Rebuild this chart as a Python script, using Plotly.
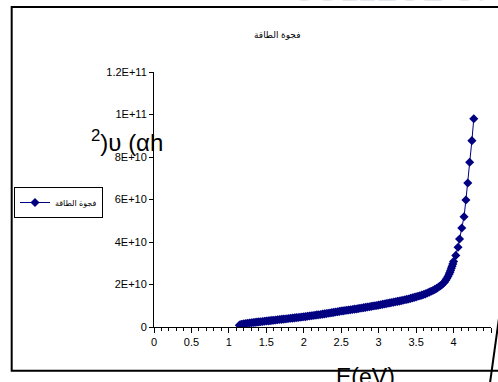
import plotly.graph_objects as go

# ---- data ----
energy_ev = [1.140, 1.150, 1.165, 1.175, 1.200, 1.225, 1.250, 1.275, 1.300, 1.325,
             1.350, 1.375, 1.400, 1.425, 1.450, 1.475, 1.500, 1.525, 1.550, 1.575,
             1.600, 1.625, 1.650, 1.675, 1.700, 1.725, 1.750, 1.775, 1.800, 1.825,
             1.850, 1.875, 1.900, 1.925, 1.950, 1.975, 2.000, 2.025, 2.050, 2.075,
             2.100, 2.125, 2.150, 2.175, 2.200, 2.225, 2.250, 2.275, 2.300, 2.325,
             2.350, 2.375, 2.400, 2.425, 2.450, 2.475, 2.500, 2.525, 2.550, 2.575,
             2.600, 2.625, 2.650, 2.675, 2.700, 2.725, 2.750, 2.775, 2.800, 2.825,
             2.850, 2.875, 2.900, 2.925, 2.950, 2.975, 3.000, 3.025, 3.050, 3.075,
             3.100, 3.125, 3.150, 3.175, 3.200, 3.225, 3.250, 3.275, 3.300, 3.325,
             3.350, 3.375, 3.400, 3.425, 3.450, 3.475, 3.500, 3.525, 3.550, 3.575,
             3.600, 3.625, 3.650, 3.675, 3.700, 3.725, 3.750, 3.775, 3.800, 3.820,
             3.840, 3.860, 3.880, 3.895, 3.910, 3.925, 3.940, 3.950, 3.960, 3.970,
             3.980, 3.990, 4.000, 4.030, 4.060, 4.080, 4.110, 4.140, 4.165, 4.190,
             4.215, 4.245, 4.270]
alpha_hv_sq = [0.08e10, 0.10e10, 0.12e10, 0.13e10, 0.15e10, 0.165e10, 0.18e10, 0.19e10, 0.20e10, 0.21e10,
               0.22e10, 0.23e10, 0.24e10, 0.25e10, 0.26e10, 0.27e10, 0.28e10, 0.29e10, 0.30e10, 0.31e10,
               0.32e10, 0.33e10, 0.34e10, 0.35e10, 0.36e10, 0.37e10, 0.38e10, 0.39e10, 0.40e10, 0.41e10,
               0.42e10, 0.43e10, 0.44e10, 0.45e10, 0.46e10, 0.47e10, 0.48e10, 0.49e10, 0.505e10, 0.52e10,
               0.53e10, 0.54e10, 0.555e10, 0.57e10, 0.58e10, 0.59e10, 0.605e10, 0.62e10, 0.63e10, 0.645e10,
               0.66e10, 0.675e10, 0.69e10, 0.705e10, 0.72e10, 0.735e10, 0.75e10, 0.76e10, 0.775e10, 0.79e10,
               0.80e10, 0.81e10, 0.825e10, 0.84e10, 0.85e10, 0.865e10, 0.88e10, 0.895e10, 0.91e10, 0.925e10,
               0.94e10, 0.955e10, 0.97e10, 0.985e10, 1.00e10, 1.015e10, 1.03e10, 1.05e10, 1.065e10, 1.08e10,
               1.10e10, 1.12e10, 1.135e10, 1.15e10, 1.17e10, 1.19e10, 1.205e10, 1.22e10, 1.24e10, 1.26e10,
               1.28e10, 1.30e10, 1.32e10, 1.345e10, 1.37e10, 1.395e10, 1.42e10, 1.445e10, 1.47e10, 1.50e10,
               1.53e10, 1.56e10, 1.60e10, 1.64e10, 1.68e10, 1.72e10, 1.77e10, 1.82e10, 1.88e10, 1.93e10,
               1.98e10, 2.05e10, 2.12e10, 2.20e10, 2.28e10, 2.38e10, 2.48e10, 2.57e10, 2.66e10, 2.76e10,
               2.86e10, 2.97e10, 3.08e10, 3.37e10, 3.75e10, 4.14e10, 4.66e10, 5.19e10, 5.98e10, 6.78e10,
               7.75e10, 8.77e10, 9.80e10]

series_name = "فجوة الطاقة"
chart_title = "فجوة الطاقة"
y_tick_vals = [0, 2e10, 4e10, 6e10, 8e10, 1e11, 1.2e11]
y_tick_text = ["0", "2E+10", "4E+10", "6E+10", "8E+10", "1E+11", "1.2E+11"]
x_tick_vals = [0, 0.5, 1, 1.5, 2, 2.5, 3, 3.5, 4, 4.5]
x_tick_text = ["0", "0.5", "1", "1.5", "2", "2.5", "3", "3.5", "4", "4.5"]

NAVY = "#000080"
FONT = "Liberation Sans, Arial, DejaVu Sans, sans-serif"

fig = go.Figure()
fig.add_trace(go.Scatter(
    x=energy_ev, y=alpha_hv_sq, name=series_name, mode="lines+markers",
    line=dict(color=NAVY, width=1),
    marker=dict(symbol="diamond", size=7, color=NAVY),
))

fig.update_layout(
    width=498, height=382,
    margin=dict(l=154, r=7, t=72, b=55),
    paper_bgcolor="white", plot_bgcolor="white",
    font=dict(family=FONT, size=11, color="black"),
    showlegend=True,
    legend=dict(x=-0.4154, y=0.549, xanchor="left", yanchor="top",
                bordercolor="black", borderwidth=1, bgcolor="white",
                font=dict(size=8, family=FONT), itemwidth=30,
                tracegroupgap=0),
    xaxis=dict(range=[0, 4.5], tickvals=x_tick_vals, ticktext=x_tick_text,
               showgrid=False, zeroline=False, showline=True, linecolor="black",
               linewidth=1, ticks="outside", ticklen=5, tickcolor="black",
               minor=dict(dtick=0.1, ticks="outside", ticklen=3, tickcolor="black"),
               tickfont=dict(size=11)),
    yaxis=dict(range=[0, 1.2e11], tickvals=y_tick_vals, ticktext=y_tick_text,
               showgrid=False, zeroline=False, showline=True, linecolor="black",
               linewidth=1, ticks="outside", ticklen=4, tickcolor="black",
               tickfont=dict(size=11)),
)

# outer chart-area frame
fig.add_shape(type="rect", xref="paper", yref="paper",
              x0=-0.4223, x1=1.2, y0=-0.1714, y1=1.2549,
              line=dict(color="black", width=2), layer="below")
# scanned stray line at bottom right
fig.add_shape(type="line", xref="paper", yref="paper",
              x0=(499 - 154) / 337, y0=(327 - 318) / 255,
              x1=(490 - 154) / 337, y1=(327 - 383) / 255,
              line=dict(color="black", width=2))

# title
fig.add_annotation(text=chart_title, xref="paper", yref="paper",
                   x=(252 - 154) / 337, y=(327 - 28) / 255, showarrow=False,
                   font=dict(size=9, family=FONT))
# y-axis label as it appears
fig.add_annotation(text="<sup>2</sup>)υ (αh", xref="paper", yref="paper",
                   x=(89 - 154) / 337, y=(327 - 124) / 255, xanchor="left",
                   showarrow=False, font=dict(size=24, family=FONT))
# x-axis label
fig.add_annotation(text="E(eV)", xref="paper", yref="paper",
                   x=(365 - 154) / 337, y=(327 - 362) / 255, yanchor="top",
                   showarrow=False, font=dict(size=23, family=FONT))
# faint watermark at top right
fig.add_annotation(text="COLLEGE OF SCIE", xref="paper", yref="paper",
                   x=(290 - 154) / 337, y=(327 + 10) / 255, xanchor="left",
                   yanchor="middle", showarrow=False,
                   font=dict(size=32, family=FONT, color="#e3e8ee"))

fig.write_html("out.html", config={"displayModeBar": False},
               post_script="document.body.style.margin='0';document.body.style.padding='0';")
